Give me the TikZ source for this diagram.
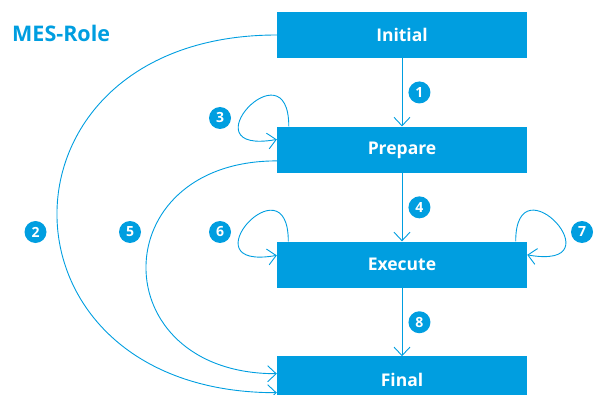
\documentclass[tikz,border=0pt]{standalone}
\usepackage{fontspec}
\setmainfont{Open Sans}
\usetikzlibrary{positioning,arrows.meta}
\definecolor{mesblue}{RGB}{0,158,224}

\begin{document}
\begin{tikzpicture}[
    x=1pt,y=1pt,
    node distance=68pt,
    state/.style={fill=mesblue,text=white,font=\fontsize{17.5}{20}\selectfont\bfseries,
        minimum width=250pt,minimum height=46.5pt,inner sep=0pt},
    num/.style={circle,fill=mesblue,text=white,font=\fontsize{14}{14}\selectfont\bfseries,
        minimum size=22pt,inner sep=0pt},
    flow/.style={mesblue,line width=0.9pt,-{Straight Barb[length=8.5pt,width=16pt]}}
]
    \useasboundingbox (0,0) rectangle (594,394);
    \clip (0,0) rectangle (594,394);
    \node[anchor=base west,text=mesblue,inner sep=0pt,
        font=\fontsize{21.5}{24}\selectfont\bfseries] (title) at (12,352) {MES-Role};
    \node[state] (initial) at (402,359) {Initial};
    \node[state,below=of initial] (prepare) {Prepare};
    \node[state,below=of prepare] (execute) {Execute};
    \node[state,below=of execute] (final) {Final};
    \draw[flow] (initial) -- node[num,right=6pt] {1} (prepare);
    \draw[flow] (prepare) -- node[num,right=6pt] {4} (execute);
    \draw[flow] (execute) -- node[num,right=6pt] {8} (final);
    \draw[flow] (initial.west)
        to[out=180,in=180,looseness=2.1] ([yshift=-13pt]final.west);
    \draw[flow] ([yshift=-11pt]prepare.west)
        to[out=180,in=180,looseness=2.1] ([yshift=6pt]final.west);
    \draw[flow] ([xshift=12pt]prepare.north west)
        to[out=90,in=190,out distance=84pt,in distance=94pt] ([yshift=-13pt]prepare.north west);
    \draw[flow] ([xshift=11.5pt]execute.north west)
        to[out=90,in=190,out distance=84pt,in distance=94pt] ([yshift=-14pt]execute.north west);
    \draw[flow] ([xshift=-11.5pt]execute.north east)
        to[out=90,in=-10,out distance=84pt,in distance=94pt] ([yshift=-13.5pt]execute.north east);
    \node[num] (n2) at (35.5,162) {2};
    \node[num] (n3) at (220,276) {3};
    \node[num] (n5) at (130,162) {5};
    \node[num] (n6) at (220,162) {6};
    \node[num] (n7) at (582,162) {7};
\end{tikzpicture}
\end{document}
